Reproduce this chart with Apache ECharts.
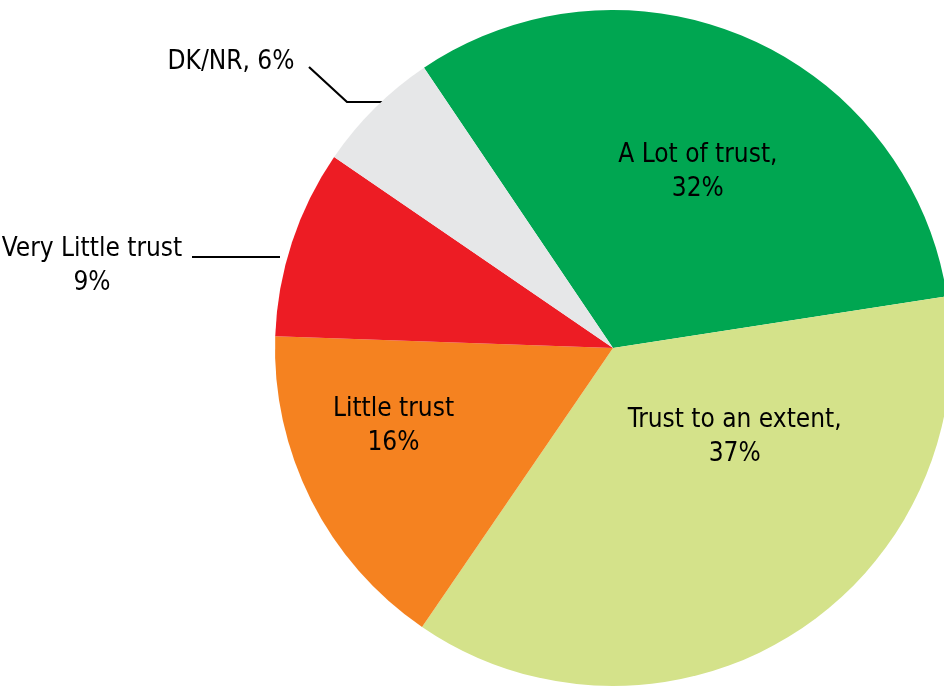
<!DOCTYPE html>
<html>
<head>
<meta charset="utf-8">
<script src="https://cdn.jsdelivr.net/npm/echarts@6/dist/echarts.min.js"></script>
<style>
html,body{margin:0;padding:0;background:#fff;}
#chart{width:944px;height:688px;}
</style>
</head>
<body>
<div id="chart"></div>
<script>
const categories = ['A Lot of trust', 'Trust to an extent', 'Little trust', 'Very Little trust', 'DK/NR'];
const values = [32, 37, 16, 9, 6];
const labelTexts = ['A Lot of trust,\n32%', 'Trust to an extent,\n37%', 'Little trust\n16%', 'Very Little trust\n9%', 'DK/NR, 6%'];
const colors = ['#00A651', '#D4E28A', '#F58220', '#ED1C24', '#E6E7E8'];

const FONT = '"DejaVu Sans Condensed", "Liberation Sans Narrow", sans-serif';

// label placement (inside labels: offsets; outside labels: anchor + leader line)
const insideOffsets = { 0: [16, -18], 1: [30, -56], 2: [-66, 1] };
const outsideLayout = {
  3: { x: 92, y: 266, line: [[280, 257], [192, 257]] },
  4: { x: 231, y: 62, line: [[383, 102], [347, 102], [309, 67]] }
};

const chart = echarts.init(document.getElementById('chart'), null, {renderer: 'canvas'});
const data = categories.map((c, i) => {
  const outside = outsideLayout[i] !== undefined;
  return {
    name: c,
    value: values[i],
    itemStyle: { color: colors[i] },
    label: {
      show: true,
      position: outside ? 'outside' : 'inside',
      formatter: labelTexts[i],
      color: '#000',
      fontFamily: FONT,
      fontSize: 26,
      lineHeight: 34,
      align: 'center'
    },
    labelLine: {
      show: outside,
      lineStyle: { color: '#000', width: 2.2 }
    }
  };
});

chart.setOption({
  animation: false,
  backgroundColor: '#fff',
  series: [{
    type: 'pie',
    center: [613, 348],
    radius: [0, 338],
    startAngle: 124,
    clockwise: true,
    avoidLabelOverlap: false,
    itemStyle: { borderWidth: 0 },
    labelLine: { lineStyle: { color: '#000', width: 2.2 } },
    emphasis: { disabled: true },
    data: data,
    labelLayout: function (params) {
      const i = params.dataIndex;
      if (outsideLayout[i]) {
        const o = outsideLayout[i];
        return { x: o.x, y: o.y, align: 'center', verticalAlign: 'middle', labelLinePoints: o.line };
      }
      const off = insideOffsets[i] || [0, 0];
      return { dx: off[0], dy: off[1] };
    }
  }]
});
</script>
</body>
</html>
